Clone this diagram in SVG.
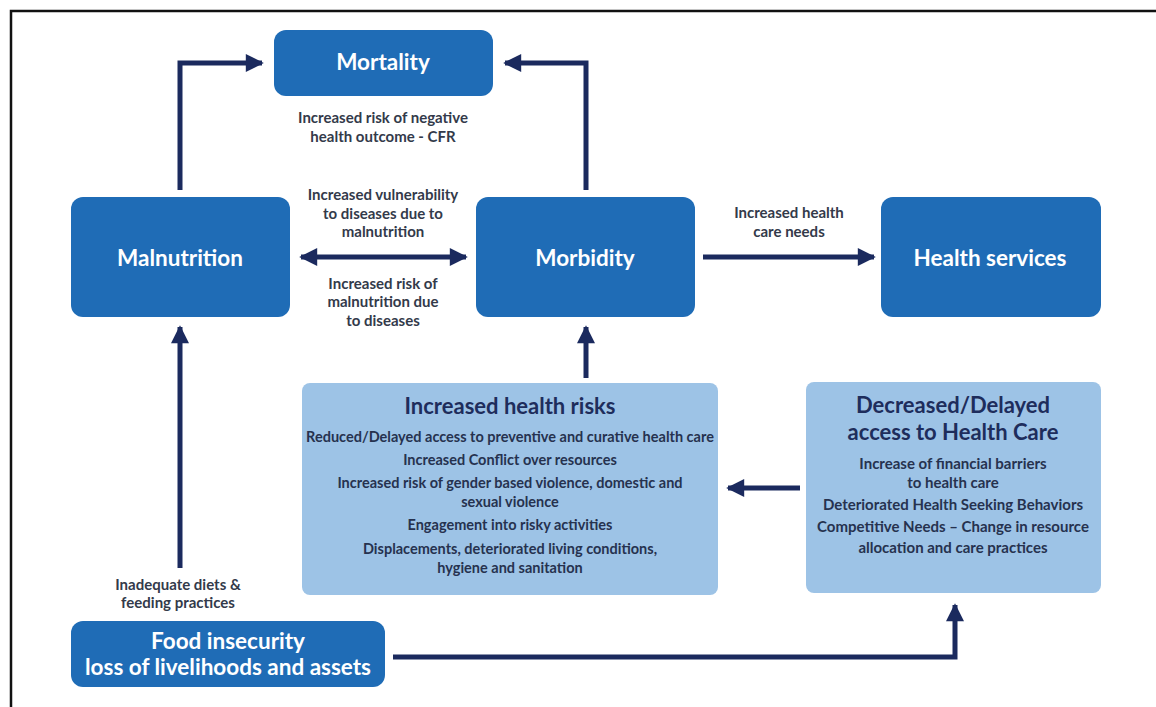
<svg xmlns="http://www.w3.org/2000/svg" width="1156" height="707" viewBox="0 0 1156 707">
<defs>
<style>
.dk{fill:#1f6cb6;}
.lt{fill:#9dc3e6;}
.nt{font-family:Lato,"Open Sans",sans-serif;font-weight:700;fill:#ffffff;text-anchor:middle;font-size:22.5px;}
.lb{font-family:Lato,"Open Sans",sans-serif;font-weight:700;fill:#333a4a;text-anchor:middle;font-size:15px;}
.tt{font-family:Lato,"Open Sans",sans-serif;font-weight:700;fill:#1e2d5c;text-anchor:middle;font-size:22px;}
.bd{font-family:Lato,"Open Sans",sans-serif;font-weight:700;fill:#26324f;text-anchor:middle;font-size:14.5px;}
.br{font-size:15px;}
.cn{fill:none;stroke:#1b2a5e;stroke-width:5;}
</style>
<marker id="ah" viewBox="0 0 10 10" refX="9" refY="5" markerWidth="4.5" markerHeight="3.6" markerUnits="strokeWidth" orient="auto-start-reverse">
<path d="M0,0 L10,5 L0,10 z" fill="#1b2a5e"/>
</marker>
</defs>
<rect width="1156" height="707" fill="#ffffff"/>
<path d="M11,707 V11 H1156" fill="none" stroke="#111" stroke-width="2.5"/>

<g id="connectors">
<path class="cn" d="M180,190 V63 H262" marker-end="url(#ah)"/>
<path class="cn" d="M586,190 V63 H505" marker-end="url(#ah)"/>
<path class="cn" d="M301,257 H466" marker-start="url(#ah)" marker-end="url(#ah)"/>
<path class="cn" d="M703,257 H874" marker-end="url(#ah)"/>
<path class="cn" d="M586,378 V327" marker-end="url(#ah)"/>
<path class="cn" d="M800,488 H728" marker-end="url(#ah)"/>
<path class="cn" d="M180,568 V327" marker-end="url(#ah)"/>
<path class="cn" d="M393,657 H955 V605" marker-end="url(#ah)"/>
</g>

<g id="mortality">
<rect class="dk" x="274" y="30" width="219" height="66" rx="12"/>
<text class="nt" x="383" y="70">Mortality</text>
</g>
<g id="label-mortality">
<text class="lb" x="383" y="123">Increased risk of negative</text>
<text class="lb" x="383" y="142">health outcome - CFR</text>
</g>
<g id="malnutrition">
<rect class="dk" x="71" y="197" width="219" height="120" rx="12"/>
<text class="nt" x="180" y="266">Malnutrition</text>
</g>
<g id="morbidity">
<rect class="dk" x="476" y="197" width="219" height="120" rx="12"/>
<text class="nt" x="585" y="266">Morbidity</text>
</g>
<g id="health-services">
<rect class="dk" x="881" y="197" width="220" height="120" rx="12"/>
<text class="nt" x="990" y="266">Health services</text>
</g>
<g id="labels-mid">
<text class="lb" x="383" y="200">Increased vulnerability</text>
<text class="lb" x="383" y="219">to diseases due to</text>
<text class="lb" x="383" y="237">malnutrition</text>
<text class="lb" x="383" y="289">Increased risk of</text>
<text class="lb" x="383" y="307">malnutrition due</text>
<text class="lb" x="383" y="326">to diseases</text>
<text class="lb" x="789" y="218">Increased health</text>
<text class="lb" x="789" y="237">care needs</text>
<text class="lb" x="178" y="590">Inadequate diets &amp;</text>
<text class="lb" x="178" y="608">feeding practices</text>
</g>
<g id="increased-health-risks">
<rect class="lt" x="302" y="383" width="416" height="212" rx="8"/>
<text class="tt" x="510" y="414">Increased health risks</text>
<text class="bd" x="510" y="442" font-size="13.8">Reduced/Delayed access to preventive and curative health care</text>
<text class="bd" x="510" y="465">Increased Conflict over resources</text>
<text class="bd" x="510" y="488">Increased risk of gender based violence, domestic and</text>
<text class="bd" x="510" y="507">sexual violence</text>
<text class="bd" x="510" y="530">Engagement into risky activities</text>
<text class="bd" x="510" y="554">Displacements, deteriorated living conditions,</text>
<text class="bd" x="510" y="573">hygiene and sanitation</text>
</g>
<g id="decreased-access">
<rect class="lt" x="806" y="382" width="295" height="211" rx="8"/>
<text class="tt" x="953" y="413">Decreased/Delayed</text>
<text class="tt" x="953" y="440">access to Health Care</text>
<text class="bd br" x="953" y="469">Increase of financial barriers</text>
<text class="bd br" x="953" y="488">to health care</text>
<text class="bd br" x="953" y="510">Deteriorated Health Seeking Behaviors</text>
<text class="bd br" x="953" y="532">Competitive Needs – Change in resource</text>
<text class="bd br" x="953" y="553">allocation and care practices</text>
</g>
<g id="food-insecurity">
<rect class="dk" x="71" y="621" width="314" height="66" rx="12"/>
<text class="nt" x="228" y="649">Food insecurity</text>
<text class="nt" x="228" y="675">loss of livelihoods and assets</text>
</g>
</svg>
